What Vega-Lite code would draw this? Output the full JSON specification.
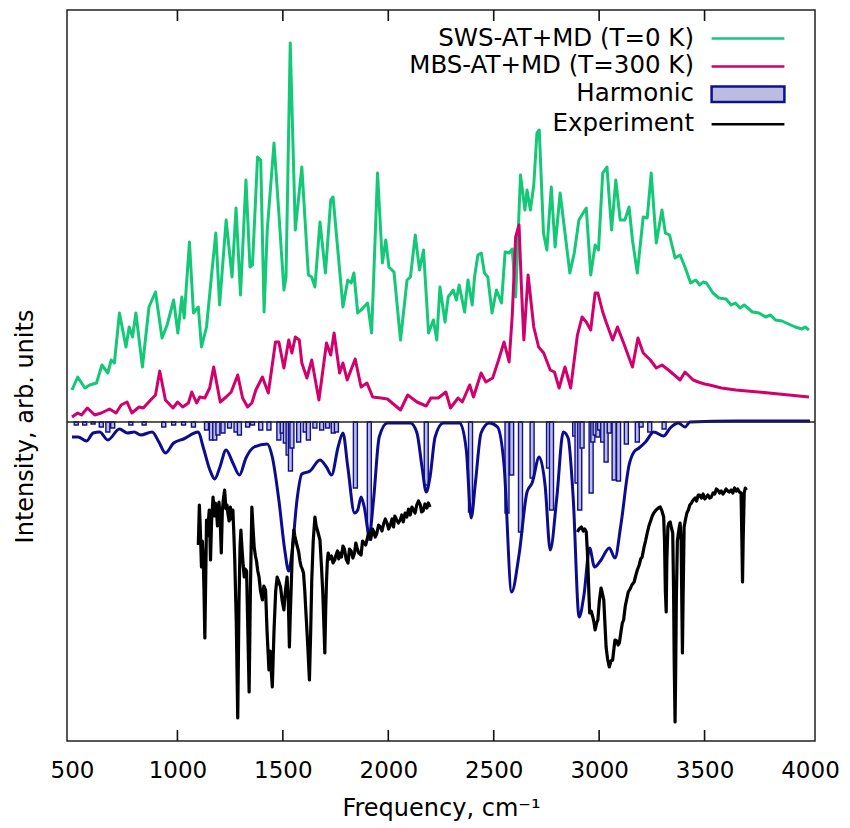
{
  "$schema": "https://vega.github.io/schema/vega-lite/v6.json",
  "autosize": {"type": "none"},
  "padding": {"left": 67, "top": 10, "right": 35, "bottom": 87},
  "width": 748,
  "height": 731,
  "datasets": {
    "ticks": [{"t":1000},{"t":1500},{"t":2000},{"t":2500},{"t":3000},{"t":3500}],
    "harm": [
      {"f":520,"v":316},{"f":560,"v":316},{"f":600,"v":317},{"f":639,"v":314},{"f":670,"v":309},{"f":693,"v":313},{"f":779,"v":316},{"f":842,"v":316},{"f":935,"v":314},{"f":982,"v":316},{"f":1029,"v":316},{"f":1076,"v":314},{"f":1138,"v":311},{"f":1161,"v":301},{"f":1177,"v":301},{"f":1192,"v":306},{"f":1216,"v":308},{"f":1247,"v":313},{"f":1278,"v":309},{"f":1294,"v":306},{"f":1333,"v":314},{"f":1356,"v":316},{"f":1395,"v":311},{"f":1434,"v":311},{"f":1481,"v":301},{"f":1497,"v":308},{"f":1512,"v":298},{"f":1525,"v":286},{"f":1536,"v":270},{"f":1543,"v":293},{"f":1575,"v":299},{"f":1606,"v":309},{"f":1621,"v":301},{"f":1652,"v":313},{"f":1684,"v":311},{"f":1712,"v":313},{"f":1739,"v":308},{"f":1754,"v":309},{"f":1844,"v":253},{"f":1910,"v":201},{"f":2180,"v":256},{"f":2390,"v":229},{"f":2563,"v":228},{"f":2585,"v":266},{"f":2627,"v":209},{"f":2682,"v":263},{"f":2760,"v":273},{"f":2774,"v":231},{"f":2884,"v":305},{"f":2895,"v":258},{"f":2908,"v":231},{"f":2919,"v":293},{"f":2962,"v":248},{"f":2970,"v":299},{"f":2981,"v":306},{"f":2994,"v":304},{"f":3002,"v":311},{"f":3017,"v":299},{"f":3033,"v":279},{"f":3048,"v":308},{"f":3071,"v":261},{"f":3092,"v":260},{"f":3129,"v":297},{"f":3181,"v":299},{"f":3199,"v":314},{"f":3240,"v":309},{"f":3308,"v":312}
    ],
    "conv": [
      {"f":500,"v":304},{"f":529,"v":304},{"f":569,"v":300},{"f":600,"v":308},{"f":631,"v":309},{"f":670,"v":301},{"f":725,"v":312},{"f":763,"v":308},{"f":795,"v":309},{"f":826,"v":306},{"f":880,"v":309},{"f":912,"v":299},{"f":943,"v":288},{"f":982,"v":298},{"f":1029,"v":302},{"f":1099,"v":309},{"f":1122,"v":294},{"f":1154,"v":271},{"f":1177,"v":262},{"f":1200,"v":273},{"f":1231,"v":291},{"f":1263,"v":278},{"f":1294,"v":266},{"f":1325,"v":283},{"f":1364,"v":294},{"f":1426,"v":297},{"f":1450,"v":284},{"f":1481,"v":241},{"f":1509,"v":191},{"f":1528,"v":170},{"f":1543,"v":188},{"f":1567,"v":241},{"f":1590,"v":267},{"f":1629,"v":270},{"f":1676,"v":281},{"f":1707,"v":274},{"f":1731,"v":266},{"f":1762,"v":294},{"f":1785,"v":308},{"f":1808,"v":274},{"f":1840,"v":228},{"f":1855,"v":231},{"f":1871,"v":244},{"f":1886,"v":234},{"f":1910,"v":206},{"f":1930,"v":241},{"f":1957,"v":304},{"f":1996,"v":318},{"f":2105,"v":318},{"f":2136,"v":308},{"f":2160,"v":274},{"f":2180,"v":249},{"f":2198,"v":264},{"f":2222,"v":304},{"f":2261,"v":318},{"f":2339,"v":318},{"f":2370,"v":291},{"f":2393,"v":223},{"f":2413,"v":258},{"f":2440,"v":308},{"f":2479,"v":318},{"f":2518,"v":314},{"f":2549,"v":276},{"f":2585,"v":149},{"f":2620,"v":186},{"f":2658,"v":249},{"f":2682,"v":258},{"f":2716,"v":284},{"f":2744,"v":255},{"f":2768,"v":191},{"f":2799,"v":243},{"f":2830,"v":309},{"f":2853,"v":303},{"f":2877,"v":243},{"f":2905,"v":124},{"f":2928,"v":146},{"f":2955,"v":193},{"f":2978,"v":174},{"f":3009,"v":181},{"f":3048,"v":193},{"f":3075,"v":183},{"f":3103,"v":216},{"f":3142,"v":276},{"f":3165,"v":289},{"f":3189,"v":293},{"f":3220,"v":299},{"f":3259,"v":309},{"f":3306,"v":305},{"f":3337,"v":313},{"f":3376,"v":318},{"f":3407,"v":314},{"f":3431,"v":319},{"f":3649,"v":320},{"f":4000,"v":320}
    ],
    "exp": [
      {"f":1099,"v":196,"g":"a"},{"f":1104,"v":236,"g":"a"},{"f":1108,"v":215,"g":"a"},{"f":1114,"v":174,"g":"a"},{"f":1118,"v":200,"g":"a"},{"f":1122,"v":185,"g":"a"},{"f":1126,"v":150,"g":"a"},{"f":1130,"v":103,"g":"a"},{"f":1134,"v":160,"g":"a"},{"f":1138,"v":221,"g":"a"},{"f":1142,"v":205,"g":"a"},{"f":1146,"v":218,"g":"a"},{"f":1151,"v":231,"g":"a"},{"f":1157,"v":181,"g":"a"},{"f":1162,"v":220,"g":"a"},{"f":1169,"v":244,"g":"a"},{"f":1175,"v":225,"g":"a"},{"f":1180,"v":238,"g":"a"},{"f":1185,"v":231,"g":"a"},{"f":1190,"v":215,"g":"a"},{"f":1197,"v":239,"g":"a"},{"f":1202,"v":225,"g":"a"},{"f":1208,"v":188,"g":"a"},{"f":1213,"v":230,"g":"a"},{"f":1218,"v":242,"g":"a"},{"f":1224,"v":251,"g":"a"},{"f":1230,"v":232,"g":"a"},{"f":1235,"v":236,"g":"a"},{"f":1239,"v":228,"g":"a"},{"f":1245,"v":220,"g":"a"},{"f":1251,"v":234,"g":"a"},{"f":1258,"v":222,"g":"a"},{"f":1263,"v":231,"g":"a"},{"f":1268,"v":205,"g":"a"},{"f":1272,"v":180,"g":"a"},{"f":1279,"v":120,"g":"a"},{"f":1286,"v":23,"g":"a"},{"f":1292,"v":140,"g":"a"},{"f":1297,"v":195,"g":"a"},{"f":1301,"v":211,"g":"a"},{"f":1307,"v":190,"g":"a"},{"f":1312,"v":175,"g":"a"},{"f":1317,"v":164,"g":"a"},{"f":1322,"v":172,"g":"a"},{"f":1328,"v":170,"g":"a"},{"f":1334,"v":110,"g":"a"},{"f":1340,"v":49,"g":"a"},{"f":1346,"v":150,"g":"a"},{"f":1353,"v":234,"g":"a"},{"f":1358,"v":215,"g":"a"},{"f":1364,"v":194,"g":"a"},{"f":1370,"v":185,"g":"a"},{"f":1375,"v":180,"g":"a"},{"f":1381,"v":170,"g":"a"},{"f":1387,"v":164,"g":"a"},{"f":1394,"v":150,"g":"a"},{"f":1403,"v":141,"g":"a"},{"f":1410,"v":155,"g":"a"},{"f":1418,"v":151,"g":"a"},{"f":1425,"v":110,"g":"a"},{"f":1434,"v":71,"g":"a"},{"f":1440,"v":90,"g":"a"},{"f":1445,"v":70,"g":"a"},{"f":1450,"v":54,"g":"a"},{"f":1458,"v":110,"g":"a"},{"f":1466,"v":150,"g":"a"},{"f":1473,"v":164,"g":"a"},{"f":1480,"v":160,"g":"a"},{"f":1489,"v":154,"g":"a"},{"f":1497,"v":140,"g":"a"},{"f":1505,"v":131,"g":"a"},{"f":1512,"v":150,"g":"a"},{"f":1520,"v":164,"g":"a"},{"f":1526,"v":140,"g":"a"},{"f":1531,"v":94,"g":"a"},{"f":1535,"v":125,"g":"a"},{"f":1539,"v":150,"g":"a"},{"f":1545,"v":190,"g":"a"},{"f":1552,"v":211,"g":"a"},{"f":1557,"v":205,"g":"a"},{"f":1562,"v":200,"g":"a"},{"f":1568,"v":195,"g":"a"},{"f":1575,"v":189,"g":"a"},{"f":1581,"v":180,"g":"a"},{"f":1586,"v":175,"g":"a"},{"f":1592,"v":172,"g":"a"},{"f":1598,"v":168,"g":"a"},{"f":1604,"v":150,"g":"a"},{"f":1609,"v":130,"g":"a"},{"f":1617,"v":100,"g":"a"},{"f":1626,"v":61,"g":"a"},{"f":1632,"v":110,"g":"a"},{"f":1637,"v":160,"g":"a"},{"f":1644,"v":200,"g":"a"},{"f":1652,"v":224,"g":"a"},{"f":1658,"v":215,"g":"a"},{"f":1665,"v":210,"g":"a"},{"f":1671,"v":205,"g":"a"},{"f":1676,"v":201,"g":"a"},{"f":1683,"v":175,"g":"a"},{"f":1689,"v":150,"g":"a"},{"f":1694,"v":120,"g":"a"},{"f":1699,"v":88,"g":"a"},{"f":1703,"v":130,"g":"a"},{"f":1707,"v":160,"g":"a"},{"f":1711,"v":180,"g":"a"},{"f":1715,"v":188,"g":"a"},{"f":1722,"v":182,"g":"a"},{"f":1731,"v":185,"g":"a"},{"f":1738,"v":178,"g":"a"},{"f":1746,"v":181,"g":"a"},{"f":1752,"v":186,"g":"a"},{"f":1759,"v":190,"g":"a"},{"f":1765,"v":182,"g":"a"},{"f":1771,"v":188,"g":"a"},{"f":1778,"v":184,"g":"a"},{"f":1785,"v":195,"g":"a"},{"f":1792,"v":192,"g":"a"},{"f":1800,"v":182,"g":"a"},{"f":1809,"v":178,"g":"a"},{"f":1816,"v":192,"g":"a"},{"f":1824,"v":190,"g":"a"},{"f":1832,"v":183,"g":"a"},{"f":1840,"v":188,"g":"a"},{"f":1846,"v":198,"g":"a"},{"f":1852,"v":193,"g":"a"},{"f":1860,"v":188,"g":"a"},{"f":1871,"v":186,"g":"a"},{"f":1878,"v":200,"g":"a"},{"f":1885,"v":198,"g":"a"},{"f":1893,"v":196,"g":"a"},{"f":1902,"v":204,"g":"a"},{"f":1909,"v":208,"g":"a"},{"f":1917,"v":202,"g":"a"},{"f":1925,"v":212,"g":"a"},{"f":1932,"v":209,"g":"a"},{"f":1938,"v":204,"g":"a"},{"f":1945,"v":207,"g":"a"},{"f":1954,"v":216,"g":"a"},{"f":1963,"v":214,"g":"a"},{"f":1970,"v":210,"g":"a"},{"f":1979,"v":218,"g":"a"},{"f":1986,"v":222,"g":"a"},{"f":1994,"v":218,"g":"a"},{"f":2002,"v":212,"g":"a"},{"f":2010,"v":216,"g":"a"},{"f":2018,"v":222,"g":"a"},{"f":2025,"v":214,"g":"a"},{"f":2031,"v":225,"g":"a"},{"f":2038,"v":222,"g":"a"},{"f":2048,"v":218,"g":"a"},{"f":2057,"v":221,"g":"a"},{"f":2064,"v":226,"g":"a"},{"f":2071,"v":219,"g":"a"},{"f":2080,"v":228,"g":"a"},{"f":2088,"v":224,"g":"a"},{"f":2096,"v":232,"g":"a"},{"f":2104,"v":226,"g":"a"},{"f":2112,"v":234,"g":"a"},{"f":2119,"v":231,"g":"a"},{"f":2127,"v":228,"g":"a"},{"f":2135,"v":236,"g":"a"},{"f":2143,"v":240,"g":"a"},{"f":2152,"v":236,"g":"a"},{"f":2158,"v":229,"g":"a"},{"f":2165,"v":230,"g":"a"},{"f":2174,"v":237,"g":"a"},{"f":2183,"v":233,"g":"a"},{"f":2190,"v":238,"g":"a"},{"f":2198,"v":234,"g":"a"},
      {"f":2897,"v":209,"g":"b"},{"f":2905,"v":212,"g":"b"},{"f":2916,"v":214,"g":"b"},{"f":2925,"v":210,"g":"b"},{"f":2932,"v":212,"g":"b"},{"f":2939,"v":209,"g":"b"},{"f":2944,"v":190,"g":"b"},{"f":2947,"v":174,"g":"b"},{"f":2951,"v":150,"g":"b"},{"f":2955,"v":128,"g":"b"},{"f":2962,"v":130,"g":"b"},{"f":2970,"v":124,"g":"b"},{"f":2976,"v":118,"g":"b"},{"f":2981,"v":111,"g":"b"},{"f":2988,"v":118,"g":"b"},{"f":2994,"v":121,"g":"b"},{"f":3001,"v":140,"g":"b"},{"f":3009,"v":153,"g":"b"},{"f":3015,"v":148,"g":"b"},{"f":3022,"v":141,"g":"b"},{"f":3028,"v":115,"g":"b"},{"f":3033,"v":94,"g":"b"},{"f":3040,"v":82,"g":"b"},{"f":3048,"v":74,"g":"b"},{"f":3056,"v":80,"g":"b"},{"f":3064,"v":81,"g":"b"},{"f":3070,"v":92,"g":"b"},{"f":3075,"v":101,"g":"b"},{"f":3083,"v":100,"g":"b"},{"f":3090,"v":96,"g":"b"},{"f":3096,"v":98,"g":"b"},{"f":3104,"v":110,"g":"b"},{"f":3110,"v":118,"g":"b"},{"f":3116,"v":121,"g":"b"},{"f":3124,"v":135,"g":"b"},{"f":3131,"v":142,"g":"b"},{"f":3138,"v":149,"g":"b"},{"f":3147,"v":152,"g":"b"},{"f":3155,"v":156,"g":"b"},{"f":3166,"v":159,"g":"b"},{"f":3173,"v":165,"g":"b"},{"f":3181,"v":171,"g":"b"},{"f":3190,"v":176,"g":"b"},{"f":3197,"v":182,"g":"b"},{"f":3204,"v":184,"g":"b"},{"f":3212,"v":193,"g":"b"},{"f":3220,"v":200,"g":"b"},{"f":3228,"v":208,"g":"b"},{"f":3236,"v":215,"g":"b"},{"f":3244,"v":220,"g":"b"},{"f":3252,"v":225,"g":"b"},{"f":3259,"v":228,"g":"b"},{"f":3270,"v":231,"g":"b"},{"f":3281,"v":233,"g":"b"},{"f":3290,"v":234,"g":"b"},{"f":3298,"v":230,"g":"b"},{"f":3306,"v":224,"g":"b"},{"f":3310,"v":200,"g":"b"},{"f":3314,"v":150,"g":"b"},{"f":3318,"v":129,"g":"b"},{"f":3321,"v":180,"g":"b"},{"f":3326,"v":214,"g":"b"},{"f":3331,"v":218,"g":"b"},{"f":3337,"v":219,"g":"b"},{"f":3343,"v":213,"g":"b"},{"f":3349,"v":208,"g":"b"},{"f":3353,"v":150,"g":"b"},{"f":3356,"v":80,"g":"b"},{"f":3360,"v":19,"g":"b"},{"f":3363,"v":70,"g":"b"},{"f":3366,"v":140,"g":"b"},{"f":3371,"v":200,"g":"b"},{"f":3376,"v":208,"g":"b"},{"f":3380,"v":214,"g":"b"},{"f":3384,"v":218,"g":"b"},{"f":3389,"v":200,"g":"b"},{"f":3392,"v":140,"g":"b"},{"f":3395,"v":88,"g":"b"},{"f":3398,"v":140,"g":"b"},{"f":3403,"v":214,"g":"b"},{"f":3410,"v":222,"g":"b"},{"f":3416,"v":228,"g":"b"},{"f":3423,"v":231,"g":"b"},{"f":3430,"v":236,"g":"b"},{"f":3438,"v":238,"g":"b"},{"f":3446,"v":241,"g":"b"},{"f":3455,"v":243,"g":"b"},{"f":3462,"v":240,"g":"b"},{"f":3470,"v":246,"g":"b"},{"f":3477,"v":246,"g":"b"},{"f":3485,"v":243,"g":"b"},{"f":3493,"v":247,"g":"b"},{"f":3501,"v":242,"g":"b"},{"f":3509,"v":244,"g":"b"},{"f":3516,"v":246,"g":"b"},{"f":3524,"v":243,"g":"b"},{"f":3532,"v":244,"g":"b"},{"f":3540,"v":248,"g":"b"},{"f":3548,"v":247,"g":"b"},{"f":3556,"v":252,"g":"b"},{"f":3563,"v":251,"g":"b"},{"f":3571,"v":248,"g":"b"},{"f":3579,"v":250,"g":"b"},{"f":3587,"v":247,"g":"b"},{"f":3594,"v":249,"g":"b"},{"f":3602,"v":252,"g":"b"},{"f":3610,"v":250,"g":"b"},{"f":3618,"v":249,"g":"b"},{"f":3626,"v":251,"g":"b"},{"f":3634,"v":248,"g":"b"},{"f":3642,"v":253,"g":"b"},{"f":3650,"v":250,"g":"b"},{"f":3657,"v":252,"g":"b"},{"f":3665,"v":249,"g":"b"},{"f":3673,"v":248,"g":"b"},{"f":3677,"v":200,"g":"b"},{"f":3680,"v":159,"g":"b"},{"f":3683,"v":200,"g":"b"},{"f":3688,"v":248,"g":"b"},{"f":3693,"v":253,"g":"b"},{"f":3699,"v":251,"g":"b"}
    ],
    "sws": [
      {"f":500,"v":351},{"f":527,"v":364},{"f":561,"v":353},{"f":584,"v":356},{"f":616,"v":358},{"f":642,"v":376},{"f":670,"v":368},{"f":686,"v":381},{"f":701,"v":378},{"f":725,"v":428},{"f":756,"v":394},{"f":771,"v":414},{"f":787,"v":404},{"f":803,"v":428},{"f":834,"v":374},{"f":865,"v":434},{"f":896,"v":449},{"f":927,"v":403},{"f":951,"v":416},{"f":982,"v":441},{"f":1002,"v":408},{"f":1021,"v":444},{"f":1032,"v":423},{"f":1057,"v":499},{"f":1076,"v":428},{"f":1099,"v":434},{"f":1114,"v":394},{"f":1138,"v":414},{"f":1161,"v":464},{"f":1182,"v":508},{"f":1200,"v":436},{"f":1231,"v":521},{"f":1259,"v":464},{"f":1278,"v":533},{"f":1299,"v":446},{"f":1325,"v":561},{"f":1344,"v":474},{"f":1356,"v":476},{"f":1380,"v":584},{"f":1395,"v":581},{"f":1411,"v":429},{"f":1426,"v":511},{"f":1458,"v":598},{"f":1481,"v":528},{"f":1505,"v":451},{"f":1515,"v":464},{"f":1535,"v":698},{"f":1559,"v":511},{"f":1590,"v":574},{"f":1621,"v":466},{"f":1637,"v":464},{"f":1652,"v":454},{"f":1676,"v":519},{"f":1702,"v":468},{"f":1727,"v":541},{"f":1738,"v":544},{"f":1785,"v":434},{"f":1808,"v":461},{"f":1824,"v":458},{"f":1837,"v":468},{"f":1855,"v":428},{"f":1871,"v":431},{"f":1902,"v":438},{"f":1921,"v":408},{"f":1949,"v":568},{"f":1972,"v":478},{"f":1988,"v":501},{"f":2003,"v":474},{"f":2027,"v":469},{"f":2058,"v":401},{"f":2089,"v":461},{"f":2105,"v":464},{"f":2128,"v":506},{"f":2148,"v":471},{"f":2167,"v":491},{"f":2191,"v":408},{"f":2214,"v":421},{"f":2230,"v":401},{"f":2245,"v":454},{"f":2269,"v":419},{"f":2284,"v":444},{"f":2308,"v":451},{"f":2323,"v":441},{"f":2336,"v":456},{"f":2362,"v":429},{"f":2378,"v":461},{"f":2398,"v":436},{"f":2409,"v":464},{"f":2425,"v":486},{"f":2441,"v":488},{"f":2456,"v":468},{"f":2472,"v":464},{"f":2492,"v":428},{"f":2513,"v":451},{"f":2537,"v":438},{"f":2554,"v":489},{"f":2573,"v":488},{"f":2588,"v":492},{"f":2604,"v":444},{"f":2627,"v":566},{"f":2648,"v":531},{"f":2658,"v":551},{"f":2674,"v":531},{"f":2690,"v":556},{"f":2705,"v":608},{"f":2716,"v":611},{"f":2736,"v":508},{"f":2752,"v":491},{"f":2773,"v":554},{"f":2791,"v":494},{"f":2815,"v":548},{"f":2838,"v":508},{"f":2861,"v":468},{"f":2882,"v":488},{"f":2904,"v":521},{"f":2924,"v":528},{"f":2939,"v":533},{"f":2960,"v":466},{"f":2981,"v":496},{"f":2997,"v":491},{"f":3017,"v":568},{"f":3037,"v":574},{"f":3059,"v":511},{"f":3079,"v":561},{"f":3100,"v":521},{"f":3122,"v":521},{"f":3142,"v":534},{"f":3158,"v":501},{"f":3181,"v":468},{"f":3209,"v":524},{"f":3228,"v":523},{"f":3247,"v":568},{"f":3271,"v":498},{"f":3298,"v":531},{"f":3314,"v":508},{"f":3334,"v":506},{"f":3360,"v":483},{"f":3384,"v":486},{"f":3407,"v":474},{"f":3434,"v":458},{"f":3458,"v":461},{"f":3477,"v":456},{"f":3493,"v":459},{"f":3509,"v":458},{"f":3540,"v":448},{"f":3568,"v":443},{"f":3602,"v":442},{"f":3626,"v":436},{"f":3646,"v":438},{"f":3668,"v":433},{"f":3688,"v":436},{"f":3727,"v":429},{"f":3758,"v":428},{"f":3789,"v":424},{"f":3813,"v":426},{"f":3836,"v":421},{"f":3867,"v":420},{"f":3898,"v":417},{"f":3930,"v":414},{"f":3961,"v":412},{"f":3977,"v":414},{"f":3995,"v":411}
    ],
    "mbs": [
      {"f":500,"v":324},{"f":527,"v":328},{"f":545,"v":326},{"f":573,"v":333},{"f":608,"v":326},{"f":639,"v":328},{"f":678,"v":332},{"f":709,"v":328},{"f":733,"v":336},{"f":761,"v":339},{"f":784,"v":328},{"f":818,"v":334},{"f":838,"v":333},{"f":873,"v":341},{"f":896,"v":346},{"f":916,"v":370},{"f":943,"v":341},{"f":979,"v":333},{"f":1001,"v":339},{"f":1025,"v":334},{"f":1052,"v":338},{"f":1068,"v":349},{"f":1091,"v":338},{"f":1106,"v":344},{"f":1130,"v":343},{"f":1153,"v":353},{"f":1172,"v":374},{"f":1203,"v":339},{"f":1231,"v":344},{"f":1255,"v":349},{"f":1286,"v":366},{"f":1309,"v":343},{"f":1333,"v":334},{"f":1353,"v":338},{"f":1372,"v":351},{"f":1403,"v":364},{"f":1431,"v":348},{"f":1465,"v":399},{"f":1481,"v":399},{"f":1505,"v":373},{"f":1528,"v":401},{"f":1543,"v":388},{"f":1559,"v":404},{"f":1578,"v":401},{"f":1590,"v":378},{"f":1614,"v":363},{"f":1637,"v":381},{"f":1671,"v":341},{"f":1707,"v":398},{"f":1727,"v":386},{"f":1743,"v":408},{"f":1769,"v":368},{"f":1785,"v":378},{"f":1805,"v":361},{"f":1843,"v":382},{"f":1871,"v":354},{"f":1899,"v":358},{"f":1926,"v":344},{"f":1965,"v":343},{"f":1996,"v":342},{"f":2058,"v":331},{"f":2092,"v":346},{"f":2136,"v":339},{"f":2180,"v":335},{"f":2202,"v":343},{"f":2237,"v":343},{"f":2273,"v":349},{"f":2295,"v":333},{"f":2331,"v":343},{"f":2351,"v":339},{"f":2386,"v":356},{"f":2404,"v":344},{"f":2440,"v":368},{"f":2463,"v":359},{"f":2495,"v":363},{"f":2523,"v":381},{"f":2549,"v":399},{"f":2573,"v":379},{"f":2588,"v":426},{"f":2604,"v":504},{"f":2620,"v":516},{"f":2632,"v":451},{"f":2643,"v":401},{"f":2663,"v":466},{"f":2690,"v":414},{"f":2713,"v":394},{"f":2737,"v":388},{"f":2768,"v":371},{"f":2788,"v":369},{"f":2810,"v":353},{"f":2838,"v":374},{"f":2865,"v":353},{"f":2897,"v":406},{"f":2919,"v":424},{"f":2939,"v":419},{"f":2960,"v":411},{"f":2981,"v":448},{"f":2994,"v":448},{"f":3017,"v":429},{"f":3033,"v":419},{"f":3064,"v":401},{"f":3087,"v":414},{"f":3116,"v":398},{"f":3158,"v":374},{"f":3184,"v":403},{"f":3209,"v":388},{"f":3243,"v":381},{"f":3271,"v":373},{"f":3298,"v":376},{"f":3329,"v":371},{"f":3384,"v":361},{"f":3407,"v":369},{"f":3446,"v":361},{"f":3470,"v":359},{"f":3500,"v":357},{"f":3524,"v":356},{"f":3580,"v":353},{"f":3649,"v":351},{"f":3700,"v":350},{"f":3805,"v":348},{"f":3900,"v":346},{"f":3995,"v":344}
    ]
  },
  "layer": [
    {
      "data": {"name": "harm"},
      "mark": {"type": "bar", "size": 4, "orient": "vertical", "strokeWidth": 1.4},
      "encoding": {
        "x": {"field": "f", "type": "quantitative", "scale": {"domain": [500, 4000], "nice": false, "zero": false},
              "axis": {"orient": "bottom", "values": [500,1000,1500,2000,2500,3000,3500,4000], "format": "d", "ticks": false, "labelPadding": 29, "labelBaseline": "middle", "labelFlush": false, "labelOverlap": false, "title": "Frequency, cm⁻¹", "titleBaseline": "middle", "titleY": 67}},
        "y": {"field": "v", "type": "quantitative", "scale": {"domain": [0, 731], "nice": false, "zero": false},
              "axis": {"title": "Intensity, arb. units", "ticks": false, "labels": false, "titleX": -42, "titleY": 416, "titleBaseline": "middle"}},
        "y2": {"datum": 319},
        "fill": {"datum": "Harmonic", "type": "nominal",
          "scale": {"domain": ["SWS-AT+MD (T=0 K)", "MBS-AT+MD (T=300 K)", "Harmonic", "Experiment"], "range": ["transparent", "transparent", "#bcbce0", "transparent"]},
          "legend": {"title": null}},
        "stroke": {"datum": "Harmonic", "type": "nominal",
          "scale": {"domain": ["SWS-AT+MD (T=0 K)", "MBS-AT+MD (T=300 K)", "Harmonic", "Experiment"], "range": ["#14c878", "#d0006c", "#10108f", "#000000"]},
          "legend": {"title": null}}
      }
    },
    {
      "data": {"values": []},
      "mark": {"type": "point"},
      "encoding": {
        "shape": {"datum": "Harmonic", "type": "nominal",
          "scale": {"domain": ["SWS-AT+MD (T=0 K)", "MBS-AT+MD (T=300 K)", "Harmonic", "Experiment"], "range": ["M-2.6,0H2.6", "M-2.6,0H2.6", "M-2.6,-0.55H2.6V0.55H-2.6Z", "M-2.6,0H2.6"]},
          "legend": {"title": null}}
      }
    },
    {
      "data": {"name": "conv"},
      "mark": {"type": "line", "interpolate": "monotone", "color": "#0c0c8e", "strokeWidth": 3},
      "encoding": {
        "x": {"field": "f", "type": "quantitative", "axis": null},
        "y": {"field": "v", "type": "quantitative", "axis": null}
      }
    },
    {
      "data": {"name": "exp"},
      "mark": {"type": "line", "strokeWidth": 3.2, "strokeJoin": "round"},
      "encoding": {
        "x": {"field": "f", "type": "quantitative", "axis": null},
        "y": {"field": "v", "type": "quantitative", "axis": null},
        "detail": {"field": "g"},
        "stroke": {"datum": "Experiment", "type": "nominal"}
      }
    },
    {
      "data": {"name": "sws"},
      "mark": {"type": "line", "strokeWidth": 3, "strokeJoin": "round"},
      "encoding": {
        "x": {"field": "f", "type": "quantitative", "axis": null},
        "y": {"field": "v", "type": "quantitative", "axis": null},
        "stroke": {"datum": "SWS-AT+MD (T=0 K)", "type": "nominal"}
      }
    },
    {
      "data": {"name": "mbs"},
      "mark": {"type": "line", "strokeWidth": 3, "strokeJoin": "round"},
      "encoding": {
        "x": {"field": "f", "type": "quantitative", "axis": null},
        "y": {"field": "v", "type": "quantitative", "axis": null},
        "stroke": {"datum": "MBS-AT+MD (T=300 K)", "type": "nominal"}
      }
    },
    {
      "data": {"values": [{}]},
      "mark": {"type": "rule", "color": "#222", "strokeWidth": 1.5},
      "encoding": {"y": {"datum": 319, "type": "quantitative", "axis": null}}
    },
    {
      "data": {"name": "ticks"},
      "mark": {"type": "rule", "color": "#111", "strokeWidth": 1.6},
      "encoding": {
        "x": {"field": "t", "type": "quantitative", "axis": null},
        "y": {"datum": 0, "type": "quantitative", "axis": null},
        "y2": {"datum": 11}
      }
    },
    {
      "data": {"name": "ticks"},
      "mark": {"type": "rule", "color": "#111", "strokeWidth": 1.6},
      "encoding": {
        "x": {"field": "t", "type": "quantitative", "axis": null},
        "y": {"datum": 720, "type": "quantitative", "axis": null},
        "y2": {"datum": 731}
      }
    }
  ],
  "resolve": {"axis": {"x": "independent", "y": "independent"}},
  "config": {
    "font": "DejaVu Sans",
    "view": {"stroke": "#222", "strokeWidth": 1.5},
    "axis": {"grid": false, "domain": false, "labelFont": "DejaVu Sans", "labelFontSize": 23, "labelColor": "#000", "titleFont": "DejaVu Sans", "titleFontSize": 24, "titleFontWeight": "normal", "titleColor": "#000"},
    "legend": {"orient": "none", "legendX": 665.5, "legendY": 13, "padding": 0, "labelFont": "DejaVu Sans", "labelFontSize": 24.5, "labelColor": "#000", "labelLimit": 400, "labelAlign": "right", "labelOffset": -69.5, "symbolSize": 784, "symbolStrokeWidth": 2.5, "symbolOpacity": 1, "rowPadding": 0.9}
  }
}
